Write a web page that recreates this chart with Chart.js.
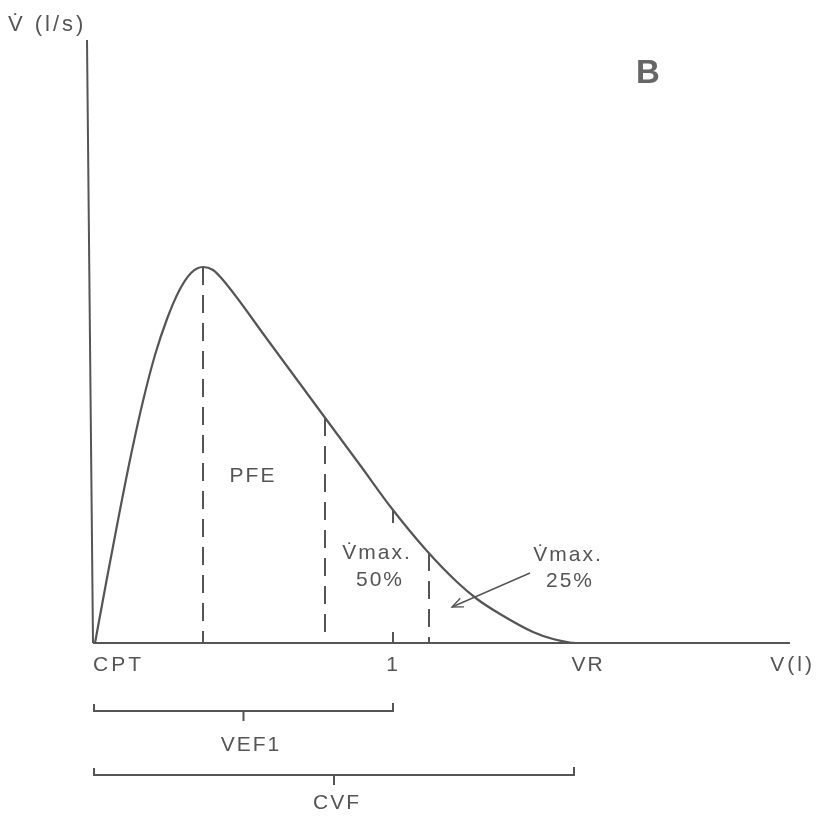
<!DOCTYPE html>
<html lang="fr">
<head>
<meta charset="utf-8">
<title>Courbe débit-volume</title>
<script src="https://cdn.jsdelivr.net/npm/chart.js@4.4.1/dist/chart.umd.min.js"></script>
<style>
  html, body { margin: 0; padding: 0; background: #fff; }
  #chart { display: block; }
</style>
</head>
<body>
<canvas id="chart" width="822" height="816"></canvas>
<script>
/* ================================================
   Courbe débit-volume (expiration forcée)
   ================================================ */

// Courbe : volume expiré (x) / débit (y)
const volume = [0.02, 0.14, 0.26, 0.38, 0.50, 0.62, 0.74, 0.86, 0.98, 1.10,
                1.20, 1.30, 1.74, 2.30, 2.67, 3.00, 3.34, 3.64, 3.84, 4.07, 4.40, 4.60, 4.77, 4.82];
const flow   = [0.00, 0.65, 1.28, 1.88, 2.42, 2.88, 3.24, 3.52, 3.70, 3.76,
                3.73, 3.63, 3.04, 2.28, 1.78, 1.33, 0.92, 0.61, 0.44, 0.29, 0.11, 0.04, 0.005, 0.00];

// Verticales en tirets : PFE, Vmax 50%, Vmax 25%
const markerVolumes = [1.10, 2.32, 3.36];
const markerFlows   = [3.76, 2.25, 0.90];

// Repères de volume
const vef1Volume = 3.00;   // volume à 1 s
const cvfVolume  = 4.81;   // fin de courbe (VR)
const axisMaxVolume = 6.97;
const axisMaxFlow   = 6.03;

// Flèche Vmax 25% : départ -> pointe
const arrowTail = [4.37, 0.70];
const arrowHead = [3.59, 0.36];

const INK  = '#555555';
const FONT = '"Liberation Sans", Arial, sans-serif';

const pts = (xs, ys) => xs.map((x, i) => ({ x, y: ys[i] }));

function segment(data, dash) {
  return {
    data,
    showLine: true,
    borderColor: INK,
    borderWidth: 2,
    borderDash: dash || [],
    pointRadius: 0,
    tension: 0,
  };
}

// Accolade horizontale sous l'axe, avec petit talon central
function bracket(x1, x2, y) {
  return [
    segment([{ x: x1, y: y + 0.07 }, { x: x1, y }, { x: x2, y }, { x: x2, y: y + 0.08 }]),
    segment([{ x: (x1 + x2) / 2, y }, { x: (x1 + x2) / 2, y: y - 0.10 }]),
  ];
}

const datasets = [
  // courbe principale
  {
    data: pts(volume, flow),
    showLine: true,
    borderColor: INK,
    borderWidth: 2.2,
    pointRadius: 0,
    cubicInterpolationMode: 'monotone',
  },
  // axes
  segment([{ x: 0, y: 0 }, { x: axisMaxVolume, y: 0 }]),
  segment([{ x: 0, y: 0 }, { x: -0.06, y: axisMaxFlow }]),
  // tirets verticaux
  ...markerVolumes.map((v, i) => segment([{ x: v, y: markerFlows[i] }, { x: v, y: 0 }], [18, 10])),
  // repère VEF1 (tiret sur la courbe + tiret sur l'axe)
  segment([{ x: vef1Volume, y: 1.33 }, { x: vef1Volume, y: 1.20 }]),
  segment([{ x: vef1Volume, y: 0.11 }, { x: vef1Volume, y: 0 }]),
  // accolades VEF1 et CVF
  ...bracket(0.01, vef1Volume, -0.68),
  ...bracket(0.01, cvfVolume, -1.32),
  // flèche
  Object.assign(segment([{ x: arrowTail[0], y: arrowTail[1] }, { x: arrowHead[0], y: arrowHead[1] }]),
    { borderWidth: 1.4 }),
];

// Textes, placés en coordonnées de données
const texts = [
  { t: 'V\u0307 (l/s)', x: -0.85, y: 6.18, align: 'left', size: 22, sp: 3 },
  { t: 'B',       x: 5.55, y: 5.69, size: 33, bold: true },
  { t: 'PFE',     x: 1.60, y: 1.67 },
  { t: 'V\u0307max.', x: 2.84, y: 0.90 },
  { t: '50%',     x: 2.87, y: 0.63 },
  { t: 'V\u0307max.', x: 4.75, y: 0.88 },
  { t: '25%',     x: 4.77, y: 0.62 },
  { t: 'CPT',     x: 0.00, y: -0.22, align: 'left', sp: 3 },
  { t: '1',       x: 3.00, y: -0.22 },
  { t: 'VR',      x: 4.95, y: -0.22 },
  { t: 'V(l)',    x: 7.22, y: -0.22, align: 'right', sp: 3 },
  { t: 'VEF1',    x: 1.58, y: -1.02 },
  { t: 'CVF',     x: 2.44, y: -1.60 },
];

const annotationPlugin = {
  id: 'annotations',
  afterDatasetsDraw(chart) {
    const { ctx, scales: { x, y } } = chart;
    ctx.save();
    ctx.textBaseline = 'middle';
    texts.forEach(d => {
      ctx.fillStyle = d.bold ? '#666666' : INK;
      ctx.font = `${d.bold ? 'bold ' : ''}${d.size || 21}px ${FONT}`;
      ctx.letterSpacing = `${d.bold ? 0 : (d.sp || 2)}px`;
      ctx.textAlign = d.align || 'center';
      ctx.fillText(d.t, x.getPixelForValue(d.x), y.getPixelForValue(d.y));
    });

    // pointe de flèche ouverte
    const hx = x.getPixelForValue(arrowHead[0]);
    const hy = y.getPixelForValue(arrowHead[1]);
    const tx = x.getPixelForValue(arrowTail[0]);
    const ty = y.getPixelForValue(arrowTail[1]);
    const a = Math.atan2(hy - ty, hx - tx);
    const len = 12;
    ctx.strokeStyle = INK;
    ctx.lineWidth = 1.4;
    ctx.beginPath();
    ctx.moveTo(hx - len * Math.cos(a - 0.4), hy - len * Math.sin(a - 0.4));
    ctx.lineTo(hx, hy);
    ctx.lineTo(hx - len * Math.cos(a + 0.4), hy - len * Math.sin(a + 0.4));
    ctx.stroke();
    ctx.restore();
  },
};

new Chart(document.getElementById('chart'), {
  type: 'scatter',
  data: { datasets },
  options: {
    responsive: false,
    animation: false,
    devicePixelRatio: 1,
    layout: { padding: 0 },
    plugins: { legend: { display: false }, tooltip: { enabled: false } },
    scales: {
      x: { type: 'linear', display: false, min: -0.93, max: 7.29 },
      y: { type: 'linear', display: false, min: -1.73, max: 6.43 },
    },
  },
  plugins: [annotationPlugin],
});
</script>
</body>
</html>
